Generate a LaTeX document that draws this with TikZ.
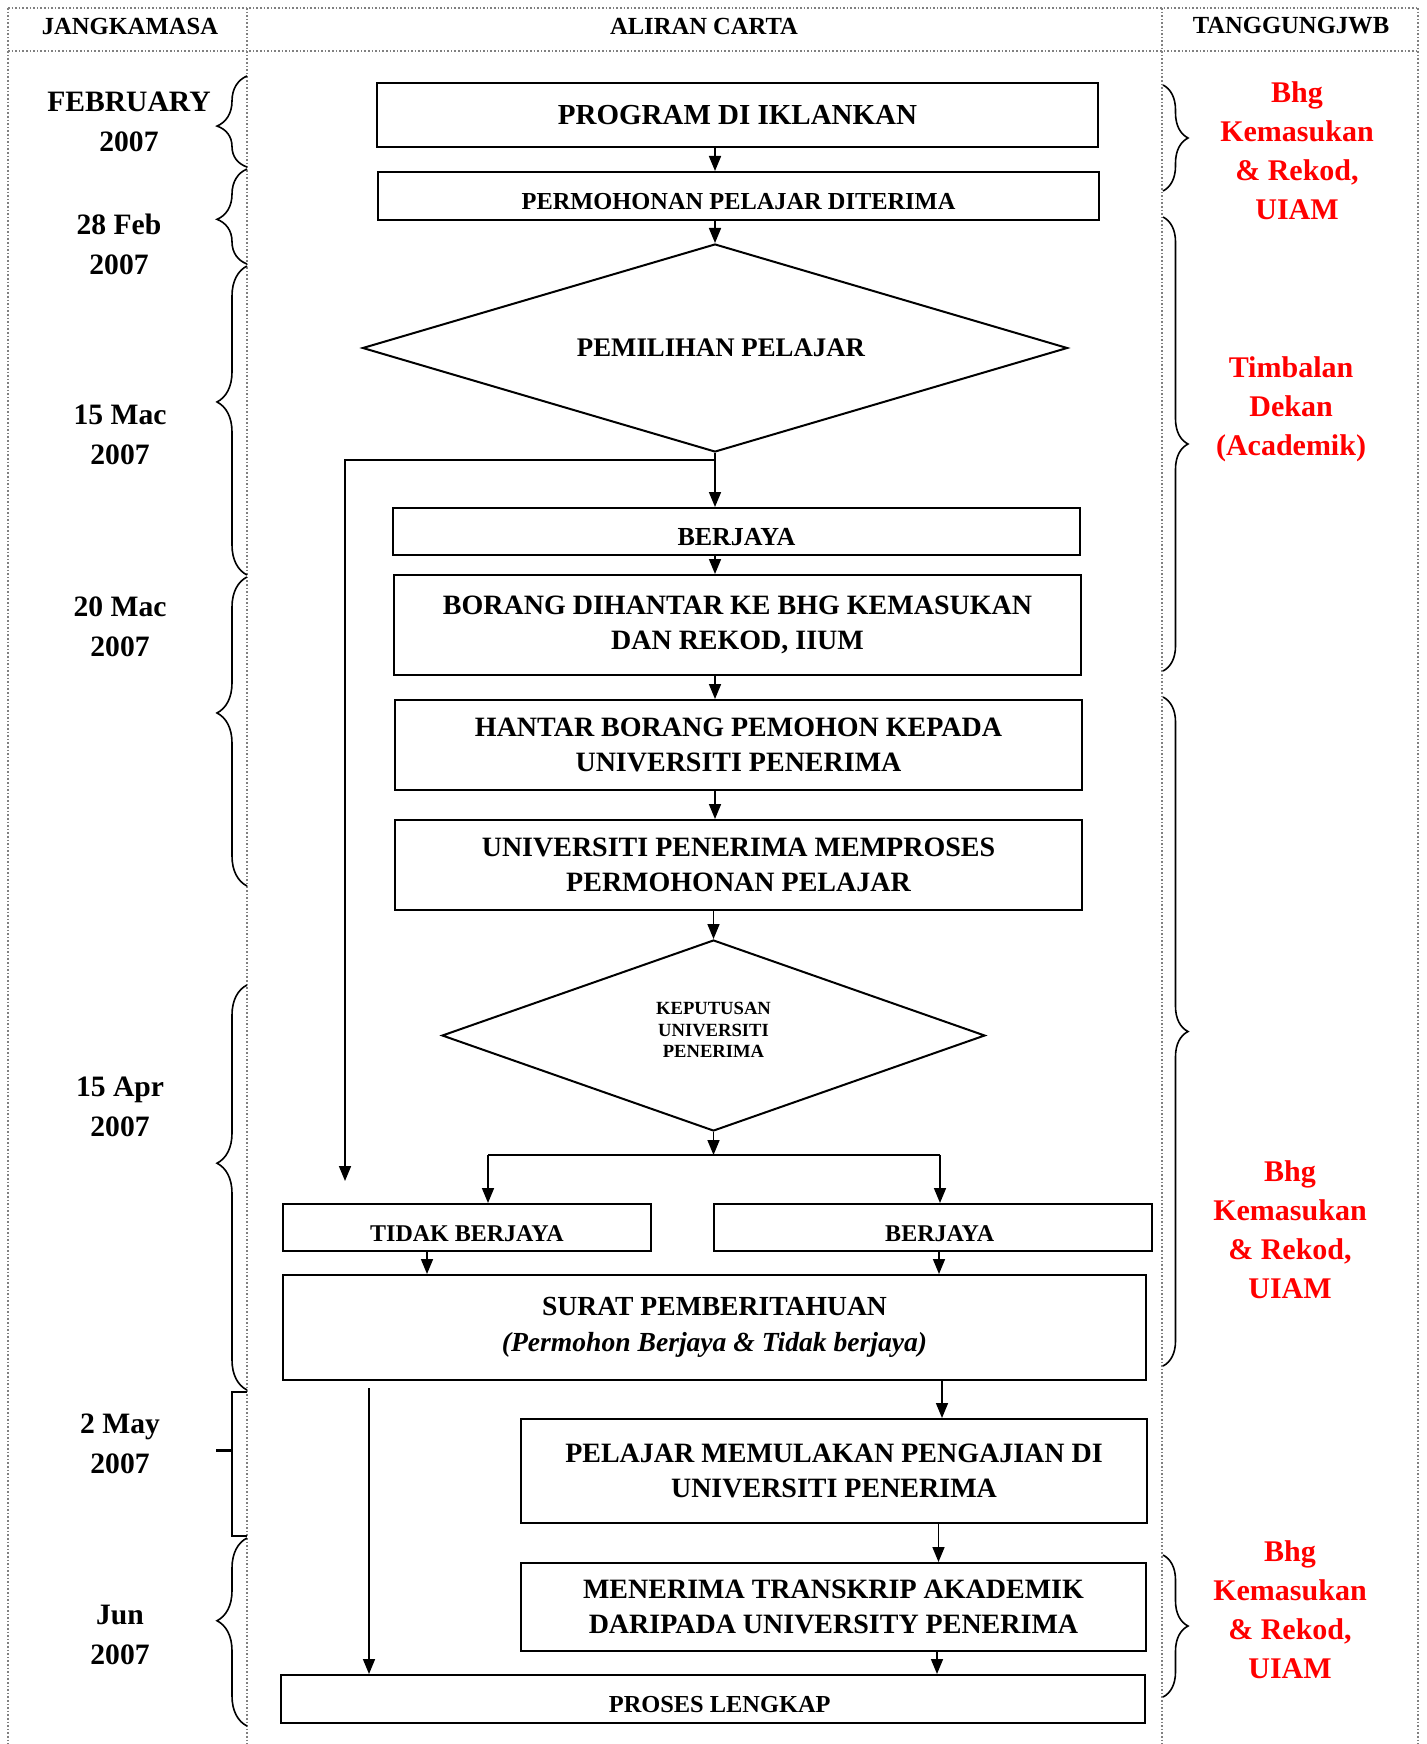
\documentclass[tikz,border=0pt]{standalone}
\usepackage{fontspec}
\setmainfont{Liberation Serif}
\usetikzlibrary{shapes.geometric,arrows.meta,decorations.pathreplacing}

\newcommand{\saiz}[2]{\fontsize{#1}{#2}\selectfont}

\begin{document}
\begin{tikzpicture}[x=0.5pt,y=-0.5pt,
  kotak/.style={draw,line width=1pt,inner sep=0pt,align=center,font=\bfseries\saiz{14}{17.8}},
  kecil/.style={font=\bfseries\saiz{12.2}{15}},
  rendah/.style={text height=#1,text depth=0pt},
  pilihan/.style={diamond,draw,line width=1pt,inner sep=0pt,align=center},
  anak/.style={-{Triangle[length=7.5pt,width=6pt]},line width=0.8pt},
  jalur/.style={gray,densely dotted,line width=0.8pt},
  kepala/.style={font=\bfseries\saiz{12.3}{15}},
  tarikh/.style={align=center,font=\bfseries\saiz{14.8}{20}},
  tugas/.style={align=center,text=red,font=\bfseries\saiz{15}{19.5}},
  kiri/.style={decorate,decoration={brace,amplitude=15pt,aspect=#1},line width=0.8pt},
  kiri/.default=0.5,
  kanan/.style={decorate,decoration={brace,amplitude=12.5pt},line width=0.8pt}]
  \useasboundingbox (0,0) rectangle (1426,1744);

  % table frame
  \draw[jalur] (8,8) -- (1418,8);
  \draw[jalur] (8,51) -- (1418,51);
  \foreach \x in {8,247,1162,1418}
    \draw[jalur] (\x,8) -- (\x,1744);
  \node[kepala] (h1) at (130,26) {JANGKAMASA};
  \node[kepala] (h2) at (704,26) {ALIRAN CARTA};
  \node[kepala] (h3) at (1291,26) {TANGGUNGJWB};

  % flow chart
  \node[kotak,font=\bfseries\saiz{14.5}{17.8},minimum width=360.5pt,minimum height=32pt] (iklan) at (737.5,115) {PROGRAM DI IKLANKAN};
  \node[kotak,kecil,rendah=13.5pt,minimum width=360.5pt,minimum height=24pt] (terima) at (738.5,196) {PERMOHONAN PELAJAR DITERIMA};
  \node[pilihan,aspect=3.39,minimum width=352.5pt,minimum height=104pt,font=\bfseries\saiz{13.4}{16}] (pilih) at (715,348) {\hspace*{6pt}PEMILIHAN PELAJAR};
  \node[kotak,font=\bfseries\saiz{13}{16},rendah=14.2pt,minimum width=343.5pt,minimum height=23.5pt] (berjaya) at (736.5,531.5) {BERJAYA};
  \node[kotak,minimum width=343.5pt,minimum height=50pt] (borang) at (737.5,625) {BORANG DIHANTAR KE BHG KEMASUKAN\\DAN REKOD, IIUM};
  \node[kotak,minimum width=343.5pt,minimum height=45pt] (hantar) at (738.5,745) {HANTAR BORANG PEMOHON KEPADA\\UNIVERSITI PENERIMA};
  \node[kotak,minimum width=343.5pt,minimum height=45pt] (proses) at (738.5,865) {UNIVERSITI PENERIMA MEMPROSES\\PERMOHONAN PELAJAR};
  \node[pilihan,aspect=2.84,text depth=5.6pt,minimum width=271.5pt,minimum height=95.5pt,font=\bfseries\saiz{9.3}{10.8}] (putus) at (713.5,1035.5) {KEPUTUSAN\\UNIVERSITI\\PENERIMA};
  \node[kotak,font=\bfseries\saiz{12}{15},rendah=13.5pt,minimum width=184pt,minimum height=23.5pt] (tidak) at (467,1227.5) {TIDAK BERJAYA};
  \node[kotak,font=\bfseries\saiz{12}{15},rendah=13.5pt,minimum width=219pt,minimum height=23.5pt] (lulus) at (933,1227.5) {\hspace*{6.7pt}BERJAYA};
  \node[kotak,font=\bfseries\saiz{13.8}{17.8},minimum width=431.5pt,minimum height=52.5pt] (surat) at (714.5,1327.5) {SURAT PEMBERITAHUAN\\{\itshape(Permohon Berjaya \& Tidak berjaya)}};
  \node[kotak,minimum width=313pt,minimum height=52pt] (mula) at (834,1471) {PELAJAR MEMULAKAN PENGAJIAN DI\\UNIVERSITI PENERIMA};
  \node[kotak,minimum width=312.5pt,minimum height=44pt] (transkrip) at (833.5,1607) {MENERIMA TRANSKRIP AKADEMIK\\DARIPADA UNIVERSITY PENERIMA};
  \node[kotak,kecil,rendah=13.5pt,minimum width=432pt,minimum height=24pt] (lengkap) at (713,1699) {\hspace*{6.7pt}PROSES LENGKAP};

  \coordinate (gagal) at (345,1181);
  \coordinate (cabkiri) at (488,1155);
  \coordinate (cabkanan) at (940,1155);
  \coordinate (pintas) at (369,1388);

  \draw[anak] (iklan.south -| pilih.north) -- (terima.north -| pilih.north);
  \draw[anak] (terima.south -| pilih.north) -- (pilih.north);
  \draw[anak] (pilih.south) -- (berjaya.north -| pilih.south);
  \draw[anak] (pilih.south) -- ++(0,7) -| (gagal);
  \draw[anak] (berjaya.south -| pilih.south) -- (borang.north -| pilih.south);
  \draw[anak] (borang.south -| pilih.south) -- (hantar.north -| pilih.south);
  \draw[anak] (hantar.south -| pilih.south) -- (proses.north -| pilih.south);
  \draw[anak] (proses.south -| putus.north) -- (putus.north);
  \draw[anak] (putus.south) -- (putus.south |- cabkiri);
  \draw[line width=0.8pt] (cabkiri) -- (cabkanan);
  \draw[anak] (cabkiri) -- (cabkiri |- tidak.north);
  \draw[anak] (cabkanan) -- (cabkanan |- lulus.north);
  \draw[anak] ([xshift=-20pt]tidak.south) -- ([xshift=-20pt]tidak.south |- surat.north);
  \draw[anak] ([xshift=3pt]lulus.south) -- ([xshift=3pt]lulus.south |- surat.north);
  \draw[anak] ([xshift=54pt]mula.north |- surat.south) -- ([xshift=54pt]mula.north);
  \draw[anak] ([xshift=52.5pt]transkrip.north |- mula.south) -- ([xshift=52.5pt]transkrip.north);
  \draw[anak] ([xshift=112pt]lengkap.north |- transkrip.south) -- ([xshift=112pt]lengkap.north);
  \draw[anak] (pintas) -- (pintas |- lengkap.north);

  % time column
  \node[tarikh] (t1) at (129,122) {FEBRUARY\\2007};
  \node[tarikh] (t2) at (119,244) {28 Feb\\2007};
  \node[tarikh] (t3) at (120,434.5) {15 Mac\\2007};
  \node[tarikh] (t4) at (120,626.5) {20 Mac\\2007};
  \node[tarikh] (t5) at (120,1107) {15 Apr\\2007};
  \node[tarikh] (t6) at (120,1443.5) {2 May\\2007};
  \node[tarikh] (t7) at (120,1635) {Jun\\2007};
  \draw[kiri=0.45] (247,167) -- (247,76);
  \draw[kiri=0.47] (247,264) -- (247,169);
  \draw[kiri=0.56] (247,575) -- (247,266);
  \draw[kiri=0.56] (247,886) -- (247,577);
  \draw[kiri=0.56] (247,1390) -- (247,985);
  \draw[line width=0.8pt] (247,1392) -- (232,1392) -- (232,1536) -- (247,1536);
  \draw[line width=1.5pt] (232,1450) -- (216,1450);
  \draw[kiri=0.56] (247,1726) -- (247,1538);

  % responsibility column
  \node[tugas] (r1) at (1297,150.5) {Bhg\\Kemasukan\\\& Rekod,\\UIAM};
  \node[tugas] (r2) at (1291,409) {Timbalan\\Dekan\\(Academik)};
  \node[tugas] (r3) at (1290,1230) {Bhg\\Kemasukan\\\& Rekod,\\UIAM};
  \node[tugas] (r4) at (1290,1609.5) {Bhg\\Kemasukan\\\& Rekod,\\UIAM};
  \draw[kanan] (1163,85) -- (1163,191);
  \draw[kanan] (1163,217) -- (1163,671);
  \draw[kanan] (1163,697) -- (1163,1366);
  \draw[kanan] (1163,1555) -- (1163,1697);
\end{tikzpicture}
\end{document}
